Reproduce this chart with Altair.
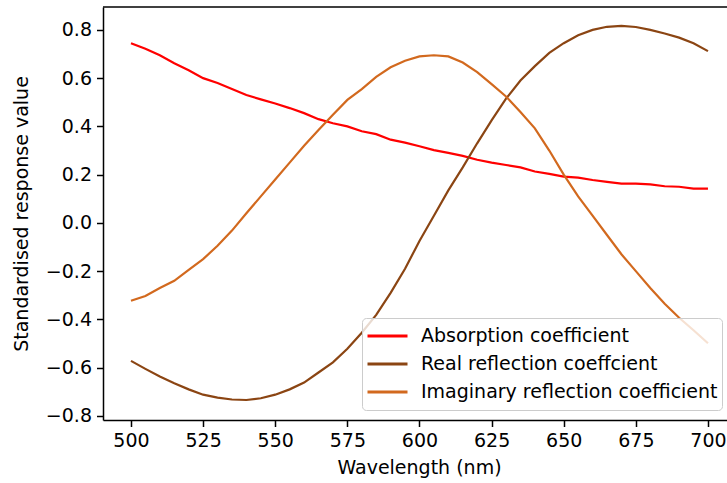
import altair as alt
import pandas as pd

wavelength = [500, 505, 510, 515, 520, 525, 530, 535, 540, 545, 550, 555, 560, 565, 570,
              575, 580, 585, 590, 595, 600, 605, 610, 615, 620, 625, 630, 635, 640, 645,
              650, 655, 660, 665, 670, 675, 680, 685, 690, 695, 700]

absorption = [0.745, 0.722, 0.695, 0.662, 0.633, 0.600, 0.580, 0.555, 0.530, 0.512,
              0.495, 0.476, 0.455, 0.430, 0.413, 0.400, 0.380, 0.368, 0.345, 0.333,
              0.318, 0.302, 0.290, 0.278, 0.262, 0.250, 0.240, 0.230, 0.213, 0.203,
              0.192, 0.188, 0.178, 0.170, 0.163, 0.163, 0.160, 0.152, 0.150, 0.142, 0.142]

real_refl = [-0.572, -0.605, -0.637, -0.665, -0.690, -0.712, -0.724, -0.732, -0.734, -0.727,
             -0.712, -0.690, -0.662, -0.620, -0.578, -0.522, -0.455, -0.381, -0.290, -0.190,
             -0.075, 0.030, 0.135, 0.230, 0.330, 0.425, 0.515, 0.590, 0.650, 0.705,
             0.745, 0.778, 0.800, 0.813, 0.817, 0.812, 0.800, 0.785, 0.768, 0.745, 0.712]

imag_refl = [-0.323, -0.303, -0.270, -0.240, -0.195, -0.150, -0.095, -0.032, 0.040, 0.110,
             0.180, 0.250, 0.320, 0.385, 0.448, 0.510, 0.555, 0.605, 0.645, 0.672,
             0.690, 0.695, 0.690, 0.665, 0.625, 0.575, 0.524, 0.460, 0.392, 0.300,
             0.200, 0.110, 0.030, -0.050, -0.130, -0.200, -0.270, -0.335, -0.393, -0.445, -0.499]

series_names = ["Absorption coefficient", "Real reflection coeffcient",
                "Imaginary reflection coefficient"]
series_colors = ["#ff0000", "#8b4513", "#d2691e"]

x_ticks = [500, 525, 550, 575, 600, 625, 650, 675, 700]
y_ticks = [-0.8, -0.6, -0.4, -0.2, 0.0, 0.2, 0.4, 0.6, 0.8]

rows = []
for name, vals in zip(series_names, [absorption, real_refl, imag_refl]):
    for w, v in zip(wavelength, vals):
        rows.append({"Wavelength": w, "Value": v, "Series": name})
df = pd.DataFrame(rows)

W, H = 624, 413
FONT = "DejaVu Sans"
FS = 19

lines = alt.Chart(df).mark_line(strokeWidth=2.2, clip=True).encode(
    x=alt.X("Wavelength:Q",
            scale=alt.Scale(domain=[490.3, 706.6], nice=False, zero=False),
            axis=alt.Axis(values=x_ticks, format="d", title="Wavelength (nm)",
                          titleX=316, titlePadding=8)),
    y=alt.Y("Value:Q",
            scale=alt.Scale(domain=[-0.817, 0.895], nice=False, zero=False),
            axis=alt.Axis(values=y_ticks, format=".1f",
                          title="Standardised response value", titlePadding=14)),
    color=alt.Color("Series:N",
                    scale=alt.Scale(domain=series_names, range=series_colors),
                    legend=alt.Legend(title=None, orient="none", legendX=259, legendY=311,
                                      padding=4, fillColor="rgba(255,255,255,0.8)",
                                      strokeColor="#cccccc", cornerRadius=4,
                                      symbolType="stroke", symbolSize=1600,
                                      symbolStrokeWidth=3, labelFontSize=FS,
                                      labelFont=FONT, labelColor="#000000",
                                      labelOffset=12, labelLimit=0, rowPadding=0,
                                      clipHeight=28)),
)

top_spine = alt.Chart(pd.DataFrame({"k": [0]})).mark_rule(
    color="#000000", strokeWidth=1.5
).encode(x=alt.value(0), x2=alt.value(W), y=alt.value(0))

chart = alt.layer(lines, top_spine).properties(
    width=W, height=H,
    padding={"left": 103, "top": 7, "right": 0, "bottom": 63},
    autosize=alt.AutoSizeParams(type="none"),
).configure_view(stroke=None).configure_axis(
    grid=False, domainColor="#000000", domainWidth=1.5,
    tickColor="#000000", tickWidth=1.5, tickSize=6.5,
    labelFont=FONT, labelFontSize=FS, labelColor="#000000", labelPadding=5,
    titleFont=FONT, titleFontSize=FS, titleFontWeight="normal", titleColor="#000000",
)

chart.save("out.html", embed_options={"renderer": "svg", "actions": False})
